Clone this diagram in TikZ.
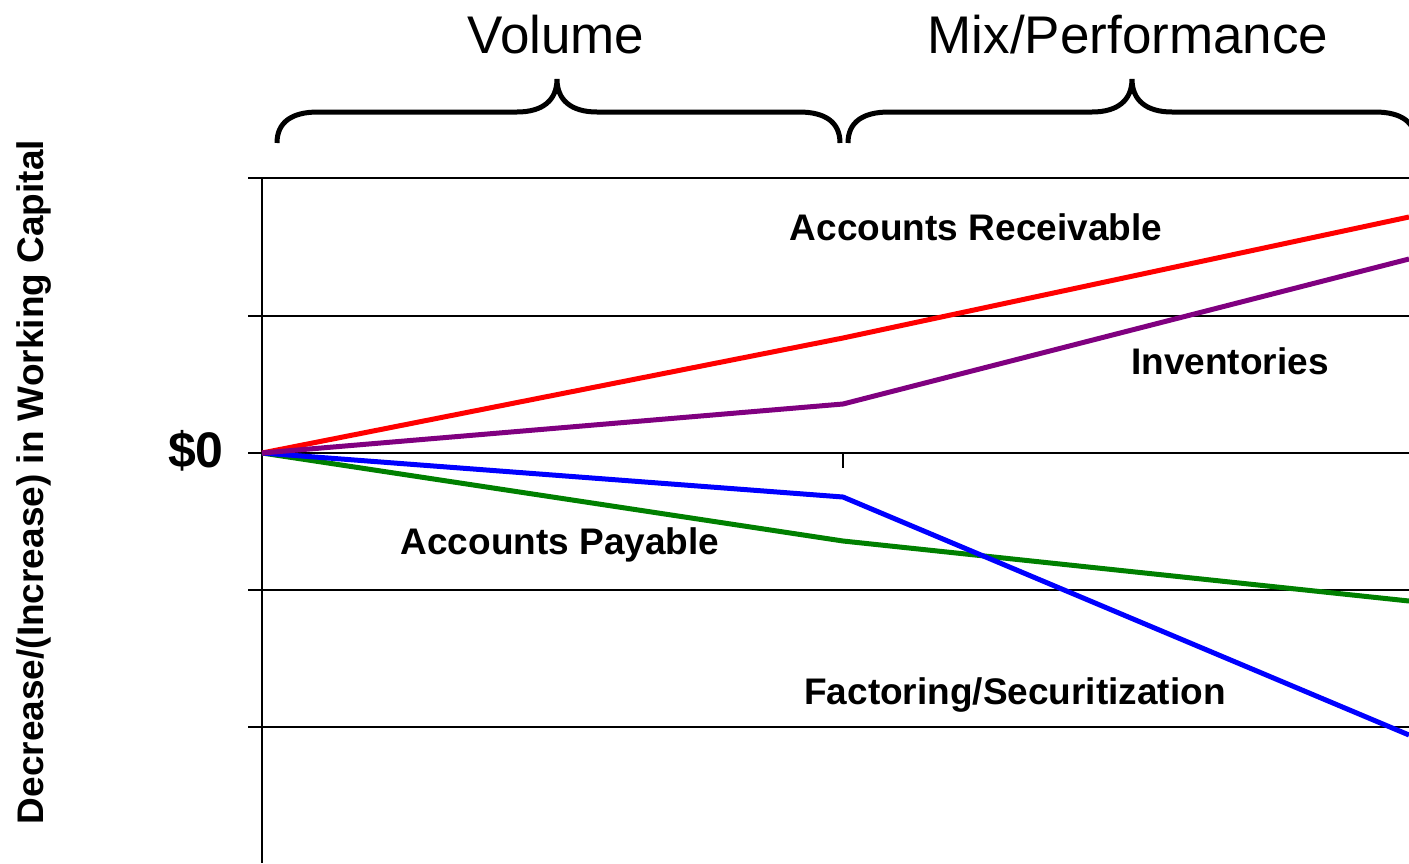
\documentclass[tikz,border=0pt]{standalone}
\usepackage{fontspec}
\setmainfont{Liberation Sans}
\begin{document}
\begin{tikzpicture}[x=1pt,y=-1pt,
  gridline/.style={line width=2pt,black},
  axisline/.style={line width=2.6pt,black},
  series/.style={line width=5pt,line join=round},
  bracepath/.style={line width=5pt,black},
  head/.style={font=\fontsize{53}{60}\selectfont,anchor=base,inner sep=0pt},
  lab/.style={font=\fontsize{37}{42}\selectfont\bfseries,anchor=base,inner sep=0pt},
]
\definecolor{cred}{RGB}{255,0,0}
\definecolor{cpurple}{RGB}{128,0,128}
\definecolor{cblue}{RGB}{0,0,255}
\definecolor{cgreen}{RGB}{0,128,0}
\useasboundingbox (0,0) rectangle (1409,863);
\begin{scope}
\clip (0,0) rectangle (1409,863);
% grid
\foreach \yy in {178,316,453,590,727} \draw[gridline] (248,\yy) -- (1409,\yy);
\draw[axisline] (262,178) -- (262,863);
\coordinate (o) at (262,453);
\coordinate (tk) at (843,453);
\coordinate (tkb) at (843,468);
\draw[gridline] (tk) -- (tkb);
% series
\coordinate (r1) at (843,338); \coordinate (r2) at (1409,217);
\coordinate (p1) at (843,404); \coordinate (p2) at (1409,259);
\coordinate (b1) at (843,497); \coordinate (b2) at (1409,735);
\coordinate (g1) at (843,541); \coordinate (g2) at (1409,601);
\draw[series,cgreen] (o) -- (g1) -- (g2);
\draw[series,cblue] (o) -- (b1) -- (b2);
\draw[series,cred] (o) -- (r1) -- (r2);
\draw[series,cpurple] (o) -- (p1) -- (p2);
% braces
\draw[bracepath] (277,143) .. controls (277,122) and (292,112) .. (318,112) -- (517,112)
  .. controls (543,112) and (557,100) .. (557,79)
  .. controls (557,100) and (571,112) .. (597,112) -- (799,112)
  .. controls (825,112) and (840,122) .. (840,143);
\draw[bracepath] (848,143) .. controls (848,122) and (863,112) .. (889,112) -- (1092,112)
  .. controls (1118,112) and (1132,100) .. (1132,79)
  .. controls (1132,100) and (1146,112) .. (1172,112) -- (1375,112)
  .. controls (1401,112) and (1416,122) .. (1416,143);
\end{scope}
% texts
\node[head] (vol) at (556,53) {Volume};
\node[head] (mix) at (1128,53) {Mix/Performance};
\node[lab] (ar) at (976,240) {Accounts Receivable};
\node[lab] (inv) at (1230,374) {Inventories};
\node[lab] (ap) at (560,554) {Accounts Payable};
\node[lab] (fs) at (1015,704) {Factoring/Securitization};
\node[font=\fontsize{50}{56}\selectfont\bfseries,anchor=base,inner sep=0pt] (zero) at (196,467) {\$0};
\node[lab,rotate=90] (ylab) at (43,482) {Decrease/(Increase) in Working Capital};
\end{tikzpicture}
\end{document}
